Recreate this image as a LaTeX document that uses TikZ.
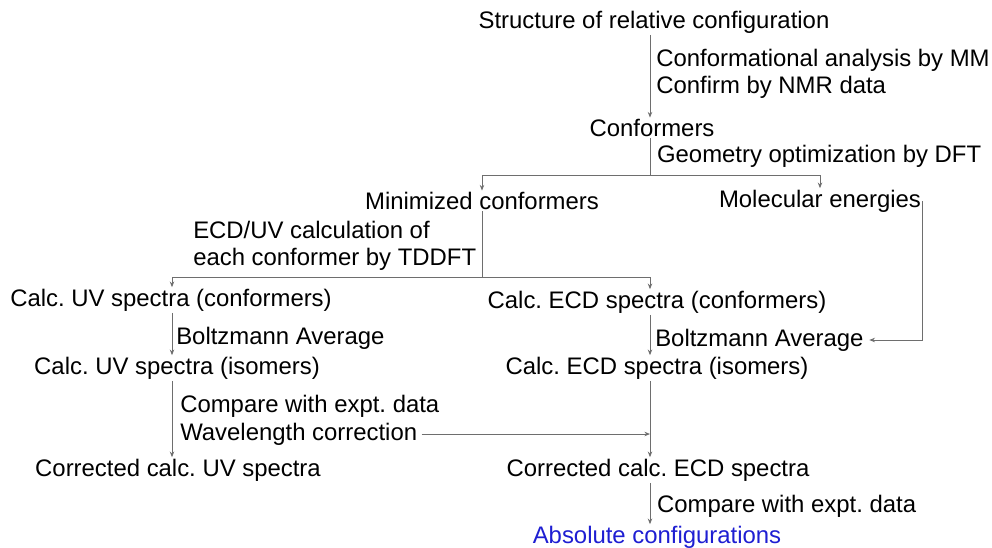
\documentclass[tikz,border=0pt]{standalone}
\usepackage{fontspec}
\setmainfont{Liberation Sans}
\usetikzlibrary{arrows.meta,positioning,calc}
\definecolor{linegray}{RGB}{110,110,110}
\definecolor{absblue}{RGB}{30,30,210}
\frenchspacing

\begin{document}
\begin{tikzpicture}[
  >={Stealth[length=4pt,width=3.2pt]},
  every node/.style={font=\fontsize{17}{19.5}\selectfont, inner sep=1pt},
  lab/.style={anchor=west, align=left, inner xsep=0pt},
  flow/.style={->, draw=linegray, line width=0.6pt},
  link/.style={draw=linegray, line width=0.6pt}
]
  \useasboundingbox (0,0) rectangle (24.8,-13.675);

  % columns and branch points
  \coordinate (xuv) at (4.3,0);
  \coordinate (xecd) at (16.25,0);
  \coordinate (brA) at (16.25,-4.375);
  \coordinate (brB) at (12.05,-6.925);

  % stages
  \node (struct) at (16.35,-0.55) {Structure of relative configuration};
  \node (conf) at (16.3,-3.2) {Conformers};
  \node (mincf) at (12.05,-5.025) {Minimized conformers};
  \node (molen) at (20.5,-5.025) {Molecular energies};
  \node (uvconf) at (4.275,-7.5) {Calc. UV spectra (conformers)};
  \node (ecdconf) at (16.425,-7.55) {Calc. ECD spectra (conformers)};
  \node (uviso) at (4.425,-9.2) {Calc. UV spectra (isomers)};
  \node (ecdiso) at (16.425,-9.2) {Calc. ECD spectra (isomers)};
  \node (uvcorr) at (4.45,-11.75) {Corrected calc. UV spectra};
  \node (ecdcorr) at (16.45,-11.75) {Corrected calc. ECD spectra};
  \node[text=absblue] (absc) at (16.425,-13.425) {Absolute configurations};

  % step labels
  \node[lab] (mmlab) at (16.4,-1.84) {Conformational analysis by MM\\Confirm by NMR data};
  \node[lab] (dftlab) at (16.42,-3.9) {Geometry optimization by DFT};
  \node[lab] (tdlab) at (4.825,-6.14) {ECD/UV calculation of\\each conformer by TDDFT};
  \node[lab] (boltzl) at (4.4,-8.45) {Boltzmann Average};
  \node[lab] (boltzr) at (16.375,-8.5) {Boltzmann Average};
  \node[lab] (cmpl) at (4.5,-10.15) {Compare with expt. data};
  \node[lab] (wavel) at (4.5,-10.85) {Wavelength correction};
  \node[lab] (cmpr) at (16.42,-12.65) {Compare with expt. data};

  % connectors
  \draw[flow] (struct.south -| xecd) -- (conf.north -| xecd);
  \draw[link] (conf.south -| brA) -- (brA);
  \draw[flow] (brA) -| (mincf.north);
  \draw[flow] (brA) -| (molen.north);
  \draw[link] (mincf.south) -- (brB);
  \draw[flow] (brB) -| (uvconf.north -| xuv);
  \draw[flow] (brB) -| (ecdconf.north -| xecd);
  \draw[flow] (uvconf.south -| xuv) -- (uviso.north -| xuv);
  \draw[flow] (uviso.south -| xuv) -- (uvcorr.north -| xuv);
  \draw[flow] (ecdconf.south -| xecd) -- (ecdiso.north -| xecd);
  \draw[flow] (ecdiso.south -| xecd) -- (ecdcorr.north -| xecd);
  \draw[flow] (ecdcorr.south -| xecd) -- (absc.north -| xecd);
  \draw[flow, shorten >=4pt] (molen.east) |- (boltzr.east);
  \draw[flow, shorten <=3pt] (wavel.east) -- (wavel.east -| xecd);
\end{tikzpicture}
\end{document}
